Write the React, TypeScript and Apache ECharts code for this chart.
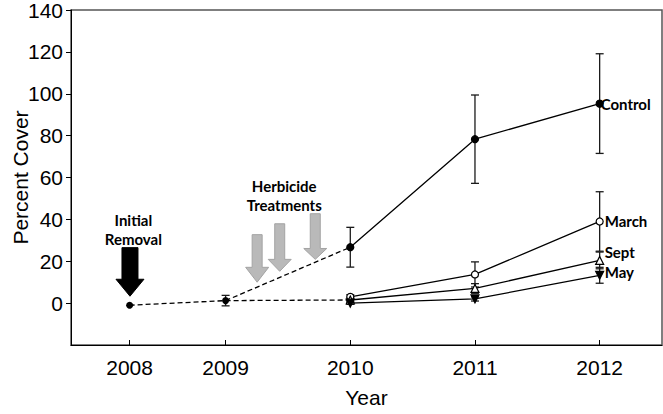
import React, { useEffect, useRef } from 'react';
import * as echarts from 'echarts';

// ---- data ----
const yearLabels = ['2008', '2009', '2010', '2011', '2012'];
const sampleTimes = [2008.23, 2009, 2010, 2011, 2012];
const yTicks = [0, 20, 40, 60, 80, 100, 120, 140];

const controlValues = [-1, 1.2, 26.7, 78.3, 95.3];
const controlErrors = [0, 2.5, 9.5, 21.1, 23.8];

const treatmentTimes = [2010, 2011, 2012];
const marchValues = [3, 13.7, 39];
const marchErrors = [1, 6, 14.2];
const septValues = [1.5, 7, 20.4];
const septErrors = [1, 2.3, 4];
const mayValues = [0, 2, 13.3];
const mayErrors = [0.6, 1, 3.8];

// annotation arrows: [x, top, headStart, tip]
const removalArrow = [[2008.233, 26.5, 11.4, 3.3]];
const herbicideArrows = [
  [2009.253, 32.7, 17.1, 10],
  [2009.434, 37.9, 20.9, 15.2],
  [2009.719, 42.7, 26.1, 20.9],
];
const notes = [
  { x: 2008.26, y: 35.1, text: 'Initial\nRemoval' },
  { x: 2009.47, y: 51.2, text: 'Herbicide\nTreatments' },
];

const pair = (xs: number[], ys: number[]) => xs.map((x, i) => [x, ys[i]]);
const errData = (xs: number[], ys: number[], es: number[]) =>
  xs.map((x, i) => [x, ys[i] - es[i], ys[i] + es[i]]).filter((d) => d[2] - d[1] > 0);

const FONT = 'Liberation Sans, Arial, sans-serif';
const BOLD_FONT = 'Lato, Open Sans, sans-serif';

function errorSeries(data: number[][]) {
  return {
    type: 'custom',
    data,
    encode: { x: 0, y: [1, 2] },
    z: 1,
    silent: true,
    renderItem: (params: any, api: any) => {
      const x = api.value(0);
      const p1 = api.coord([x, api.value(1)]);
      const p2 = api.coord([x, api.value(2)]);
      const w = 4;
      const st = { stroke: '#1a1a1a', lineWidth: 1.3 };
      return {
        type: 'group',
        children: [
          { type: 'line', shape: { x1: p1[0], y1: p1[1], x2: p2[0], y2: p2[1] }, style: st },
          { type: 'line', shape: { x1: p1[0] - w, y1: p1[1], x2: p1[0] + w, y2: p1[1] }, style: st },
          { type: 'line', shape: { x1: p2[0] - w, y1: p2[1], x2: p2[0] + w, y2: p2[1] }, style: st },
        ],
      };
    },
  };
}

function arrowSeries(data: number[][], shaftHalf: number, headHalf: number, fill: string, stroke: string) {
  return {
    type: 'custom',
    data,
    encode: { x: 0, y: [1, 3] },
    z: 0,
    silent: true,
    renderItem: (params: any, api: any) => {
      const x = api.value(0);
      const top = api.coord([x, api.value(1)]);
      const hs = api.coord([x, api.value(2)]);
      const tip = api.coord([x, api.value(3)]);
      const cx = top[0];
      return {
        type: 'polygon',
        shape: {
          points: [
            [cx - shaftHalf, top[1]],
            [cx + shaftHalf, top[1]],
            [cx + shaftHalf, hs[1]],
            [cx + headHalf, hs[1]],
            [cx, tip[1]],
            [cx - headHalf, hs[1]],
            [cx - shaftHalf, hs[1]],
          ],
        },
        style: { fill, stroke, lineWidth: 1 },
      };
    },
  };
}

function lineSeries(name: string, data: number[][], symbol: string, filled: boolean, rotate = 0, endLabel?: any) {
  return {
    type: 'line',
    name,
    data,
    symbol,
    symbolSize: symbol === 'circle' ? 7 : 8,
    symbolRotate: rotate,
    showAllSymbol: true,
    z: 3,
    lineStyle: { color: '#000', width: 1.3 },
    itemStyle: { color: filled ? '#000' : '#fff', borderColor: '#000', borderWidth: 1.2 },
    endLabel: endLabel
      ? {
          show: true,
          formatter: name,
          fontFamily: BOLD_FONT,
          fontWeight: 'bold',
          fontSize: 15,
          color: '#000',
          ...endLabel,
        }
      : undefined,
  };
}

export default function App() {
  const ref = useRef<HTMLDivElement>(null);

  useEffect(() => {
    document.body.style.margin = '0';
    const chart = echarts.init(ref.current!, undefined, { renderer: 'svg' });

    const labelFor = (v: number) => {
      let best = 0;
      sampleTimes.forEach((t, i) => {
        if (Math.abs(t - v) < Math.abs(sampleTimes[best] - v)) best = i;
      });
      return yearLabels[best];
    };

    chart.setOption({
      animation: false,
      backgroundColor: '#fff',
      grid: {
        left: 71,
        right: 1,
        top: 10,
        bottom: 69,
        containLabel: false,
        outerBoundsMode: 'none',
        show: true,
        borderColor: '#555',
        borderWidth: 1.5,
      },
      xAxis: {
        type: 'value',
        min: 2007.76,
        max: 2012.5,
        name: 'Year',
        nameLocation: 'middle',
        nameGap: 42,
        nameTextStyle: { fontFamily: FONT, fontSize: 21, color: '#000' },
        axisLine: { show: true, onZero: false, lineStyle: { color: '#000', width: 1 } },
        axisTick: { show: true, inside: true, length: 5, customValues: sampleTimes, lineStyle: { color: '#000' } },
        axisLabel: {
          customValues: sampleTimes,
          formatter: (v: number) => labelFor(v),
          fontFamily: FONT,
          fontSize: 21,
          color: '#000',
          margin: 12,
        },
        splitLine: { show: false },
      },
      yAxis: {
        type: 'value',
        min: -20,
        max: 140,
        name: 'Percent Cover',
        nameLocation: 'middle',
        nameRotate: 90,
        nameGap: 40,
        nameMoveOverlap: false,
        nameTextStyle: { fontFamily: FONT, fontSize: 21, lineHeight: 21, color: '#000' },
        axisLine: { show: true, onZero: false, lineStyle: { color: '#000', width: 1 } },
        axisTick: { show: true, length: 5, customValues: yTicks, lineStyle: { color: '#000' } },
        axisLabel: {
          customValues: yTicks,
          fontFamily: FONT,
          fontSize: 21,
          lineHeight: 16,
          color: '#000',
          margin: 8,
        },
        splitLine: { show: false },
      },
      series: [
        arrowSeries(removalArrow, 8, 14, '#000', '#000'),
        arrowSeries(herbicideArrows, 5, 11.5, '#b9b9b9', '#a3a3a3'),
        {
          type: 'custom',
          data: notes.map((n) => [n.x, n.y]),
          encode: { x: 0, y: 1 },
          silent: true,
          renderItem: (params: any, api: any) => {
            const p = api.coord([api.value(0), api.value(1)]);
            return {
              type: 'text',
              x: p[0],
              y: p[1],
              style: {
                text: notes[params.dataIndex].text,
                fontFamily: BOLD_FONT,
                fontWeight: 'bold',
                fontSize: 15,
                lineHeight: 19,
                fill: '#000',
                align: 'center',
                verticalAlign: 'middle',
              },
            };
          },
        },
        errorSeries(errData(sampleTimes, controlValues, controlErrors)),
        errorSeries(errData(treatmentTimes, marchValues, marchErrors)),
        errorSeries(errData(treatmentTimes, septValues, septErrors)),
        errorSeries(errData(treatmentTimes, mayValues, mayErrors)),
        // pre-treatment dashed lines
        {
          type: 'line',
          data: pair(sampleTimes.slice(0, 3), controlValues.slice(0, 3)),
          symbol: 'circle',
          symbolSize: 7,
          z: 2,
          lineStyle: { color: '#000', width: 1.3, type: [5, 3] },
          itemStyle: { color: '#000' },
        },
        {
          type: 'line',
          data: [
            [sampleTimes[1], controlValues[1]],
            [treatmentTimes[0], septValues[0]],
          ],
          symbol: 'none',
          z: 2,
          lineStyle: { color: '#000', width: 1.3, type: [5, 3] },
        },
        lineSeries('Control', pair(sampleTimes.slice(2), controlValues.slice(2)), 'circle', true, 0, { distance: 1 }),
        lineSeries('March', pair(treatmentTimes, marchValues), 'circle', false, 0, { distance: 5 }),
        lineSeries('Sept', pair(treatmentTimes, septValues), 'triangle', false, 0, { distance: 5, offset: [0, -8] }),
        lineSeries('May', pair(treatmentTimes, mayValues), 'triangle', true, 180, { distance: 5, offset: [0, -3] }),
      ],
    });

    return () => chart.dispose();
  }, []);

  return <div ref={ref} style={{ width: 663, height: 414 }} />;
}
